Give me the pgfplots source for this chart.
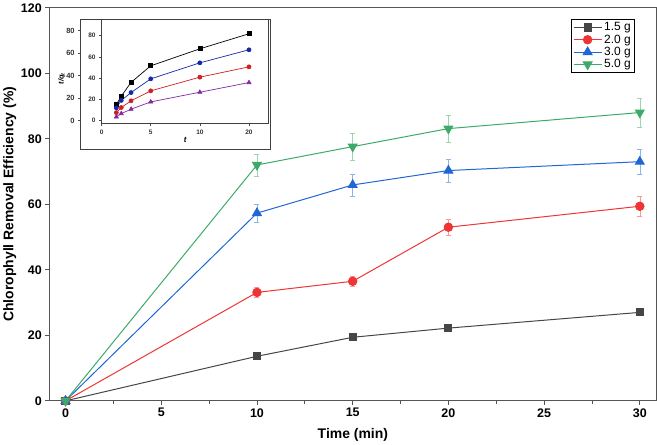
\documentclass[border=0pt]{standalone}
\usepackage{pgfplots}
\pgfplotsset{compat=1.18}
\usepackage{fontspec}
\setmainfont{Liberation Sans}
\definecolor{cgray}{RGB}{70,70,70}
\definecolor{cred}{RGB}{238,52,52}
\definecolor{cblue}{RGB}{32,102,212}
\definecolor{cgreen}{RGB}{60,170,104}
\definecolor{cpurple}{RGB}{128,40,160}
\definecolor{iblue}{RGB}{20,40,170}
\definecolor{ired}{RGB}{210,30,30}
\definecolor{axgray}{RGB}{85,85,85}
\begin{document}
\begin{tikzpicture}
\begin{axis}[name=main,
  scale only axis, width=607bp, height=393bp,
  at={(0bp,0bp)}, anchor=south west,
  xmin=-0.85, xmax=30.87, ymin=0, ymax=120,
  xtick={0,5,...,30}, ytick={0,20,...,120},
  minor x tick num=1,
  tick align=outside, tick pos=left,
  major tick length=4bp, minor tick length=3bp,
  axis line style={axgray, line width=1.1pt},
  every tick/.style={axgray, line width=0.9pt},
  /pgf/number format/assume math mode=true,
  tick label style={font=\bfseries\fontsize{12.5}{14}\selectfont},
  xlabel={Time (min)},
  ylabel={Chlorophyll Removal Efficiency (\%)},
  label style={font=\bfseries\fontsize{14}{16}\selectfont},
  xlabel style={at={(axis description cs:0.5,-0.087)}, anchor=center},
  ylabel style={at={(axis description cs:-0.065,0.5)}, anchor=center},
  legend style={at={(0.964,0.972)}, anchor=north east, draw=black, line width=0.8pt,
    font=\fontsize{12}{13}\selectfont, inner sep=1.5bp, row sep=-1.5bp},
  legend cell align=left,
  legend image code/.code={\draw[mark repeat=2,mark phase=2] plot coordinates {(0bp,0bp)(14bp,0bp)(28bp,0bp)};},
  error bars/y dir=both, error bars/y explicit,
]
\addplot[cgray, line width=1pt, mark=square*, mark size=3.6bp,
  error bars/error bar style={cgray!50, line width=0.6pt},
  error bars/error mark options={rotate=90, mark size=2.5bp, cgray!50}]
  coordinates {(0,0) +- (0,0) (10,13.6) +- (0,0.9) (15,19.4) +- (0,0.9) (20,22.2) +- (0,0.9) (30,27.0) +- (0,1.0)};
\addlegendentry{1.5 g}
\addplot[cred, line width=1pt, mark=*, mark size=4.2bp,
  error bars/error bar style={cred!50, line width=0.6pt},
  error bars/error mark options={rotate=90, mark size=2.5bp, cred!50}]
  coordinates {(0,0) +- (0,0) (10,33.1) +- (0,1.5) (15,36.5) +- (0,1.5) (20,53.0) +- (0,2.5) (30,59.4) +- (0,3.0)};
\addlegendentry{2.0 g}
\addplot[cblue, line width=1pt, mark=triangle*, mark size=5bp,
  error bars/error bar style={cblue!50, line width=0.6pt},
  error bars/error mark options={rotate=90, mark size=2.5bp, cblue!50}]
  coordinates {(0,0) +- (0,0) (10,57.3) +- (0,2.8) (15,65.9) +- (0,3.3) (20,70.3) +- (0,3.5) (30,73.0) +- (0,3.7)};
\addlegendentry{3.0 g}
\addplot[cgreen, line width=1pt, mark=triangle*, mark size=5bp, mark options={rotate=180},
  error bars/error bar style={cgreen!50, line width=0.6pt},
  error bars/error mark options={rotate=90, mark size=2.5bp, cgreen!50}]
  coordinates {(0,0) +- (0,0) (10,72.0) +- (0,3.3) (15,77.6) +- (0,4.0) (20,83.1) +- (0,4.1) (30,88.0) +- (0,4.4)};
\addlegendentry{5.0 g}
\end{axis}
\draw[fill=white, draw=black!75, line width=0.8pt] (31.3bp,251bp) rectangle (221.3bp,381bp);
% ghost y axis of pasted inset
\begin{axis}[
  scale only axis, width=190bp, height=130bp,
  at={(31.3bp,251bp)}, anchor=south west,
  xmin=0, xmax=1, ymin=-25.8, ymax=89.8,
  axis line style={draw=none},
  xtick=\empty,
  ytick={0,20,40,60,80},
  ytick pos=left,
  tick align=outside, major tick length=2.5bp,
  every tick/.style={black!70, line width=0.5pt},
  /pgf/number format/assume math mode=true,
  yticklabel style={font=\bfseries\fontsize{7.5}{8}\selectfont, black!80},
  ylabel={t/q\textsubscript{t}},
  ylabel style={at={(axis description cs:-0.1,0.546)}, anchor=center, font=\bfseries\itshape\fontsize{7.5}{8}\selectfont},
]
\addplot[draw=none] coordinates {(0.5,0)};
\end{axis}
% inset
\begin{axis}[
  scale only axis, width=167bp, height=104bp,
  at={(52.3bp,277bp)}, anchor=south west,
  xmin=0, xmax=17, ymin=-3, ymax=95,
  xtick={0,5,10,15}, xticklabels={0,5,10,20},
  ytick={0,20,...,80},
  tick align=outside, tick pos=left,
  major tick length=2.5bp,
  axis line style={black!75, line width=0.7pt},
  every tick/.style={black!70, line width=0.5pt},
  /pgf/number format/assume math mode=true,
  tick label style={font=\bfseries\fontsize{6.5}{7}\selectfont, black!80},
  xlabel={\bfseries\itshape t},
  xlabel style={at={(axis description cs:0.5,-0.155)}, anchor=center, font=\fontsize{8}{9}\selectfont},
]
\addplot[black, line width=0.7pt, mark=square*, mark size=2bp]
  coordinates {(1.5,15) (2,23) (3,36) (5,51.6) (10,67.6) (15,81.8)};
\addplot[iblue, line width=0.7pt, mark=*, mark size=2bp]
  coordinates {(1.5,12) (2,19) (3,26.4) (5,39.3) (10,54.4) (15,66.7)};
\addplot[ired, line width=0.7pt, mark=*, mark size=2bp]
  coordinates {(1.5,7.5) (2,12.3) (3,18.6) (5,28) (10,40.9) (15,50.6)};
\addplot[cpurple, line width=0.7pt, mark=triangle*, mark size=2.3bp]
  coordinates {(1.5,3.5) (2,6.6) (3,10.7) (5,17.6) (10,26.7) (15,35.8)};
\end{axis}
\end{tikzpicture}
\end{document}
